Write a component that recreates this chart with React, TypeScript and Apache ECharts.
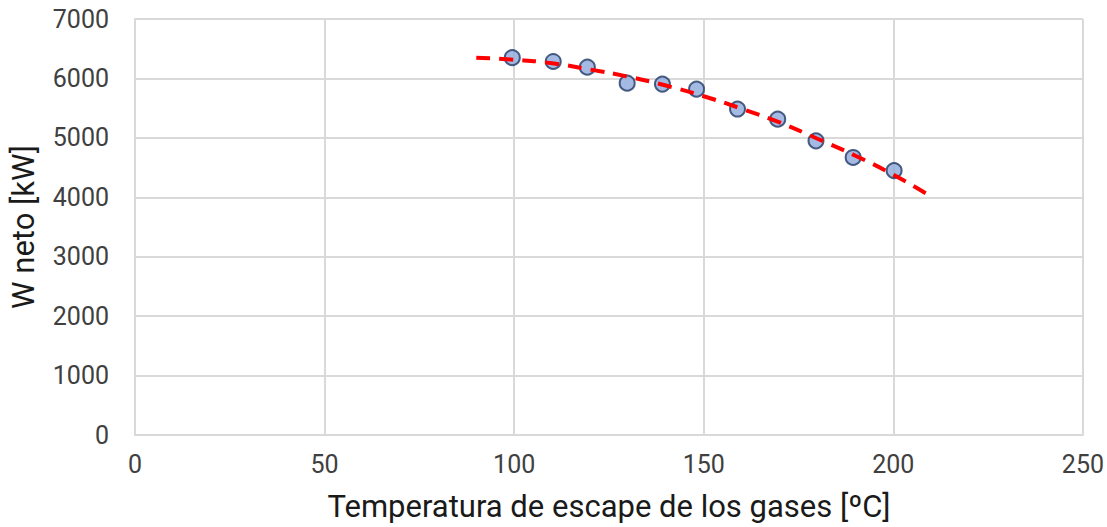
import React, { useEffect, useRef } from "react";
import * as echarts from "echarts";

const tempX = [99.5, 110.3, 119.3, 129.8, 139.1, 148.1, 158.9, 169.5, 179.6, 189.4, 200.2];
const wNeto = [6350, 6285, 6190, 5920, 5905, 5820, 5485, 5315, 4950, 4670, 4450];
const trendX = [90, 100, 110, 120, 130, 140, 150, 160, 170, 180, 190, 200, 210];
const trendY = [6350, 6315, 6255, 6150, 6030, 5880, 5700, 5490, 5260, 4985, 4700, 4380, 4012];

export default function App() {
  const ref = useRef<HTMLDivElement>(null);
  useEffect(() => {
    if (!ref.current) return;
    document.body.style.margin = "0";
    document.body.style.overflow = "hidden";
    const chart = echarts.init(ref.current, undefined, { renderer: "svg" });
    chart.setOption({
      animation: false,
      grid: { left: 135, right: 24, top: 19, bottom: 91 },
      xAxis: {
        type: "value",
        min: 0,
        max: 250,
        interval: 50,
        name: "Temperatura de escape de los gases [ºC]",
        nameLocation: "middle",
        nameGap: 56,
        nameTextStyle: { fontFamily: "Roboto", fontSize: 31, color: "#1a1a1a" },
        axisLine: { show: true, lineStyle: { color: "#D9D9D9", width: 2 } },
        axisTick: { show: false },
        axisLabel: { fontFamily: "Roboto", fontSize: 25, color: "#404040", margin: 17 },
        splitLine: { show: true, lineStyle: { color: "#D9D9D9", width: 2 } },
      },
      yAxis: {
        type: "value",
        min: 0,
        max: 7000,
        interval: 1000,
        name: "W neto [kW]",
        nameLocation: "middle",
        nameGap: 96,
        nameTextStyle: { fontFamily: "Roboto", fontSize: 31, color: "#1a1a1a" },
        axisLine: { show: true, lineStyle: { color: "#D9D9D9", width: 2 } },
        axisTick: { show: false },
        axisLabel: {
          fontFamily: "Roboto",
          fontSize: 25,
          color: "#404040",
          margin: 26,
          formatter: (v: number) => String(v),
        },
        splitLine: { show: true, lineStyle: { color: "#D9D9D9", width: 2 } },
      },
      series: [
        {
          type: "line",
          data: trendX.map((x, i) => [x, trendY[i]]),
          smooth: true,
          showSymbol: false,
          symbol: "none",
          lineStyle: { color: "#FF0000", width: 4, type: [14, 9] },
          z: 3,
        },
        {
          type: "scatter",
          data: tempX.map((x, i) => [x, wNeto[i]]),
          symbol: "circle",
          symbolSize: 15,
          itemStyle: { color: "#8EA9DB", borderColor: "#1F3864", borderWidth: 2 },
          z: 2,
        },
      ],
    });
    return () => chart.dispose();
  }, []);
  return (
    <div
      ref={ref}
      style={{ position: "absolute", left: 0, top: 0, width: 1107, height: 527 }}
    />
  );
}
